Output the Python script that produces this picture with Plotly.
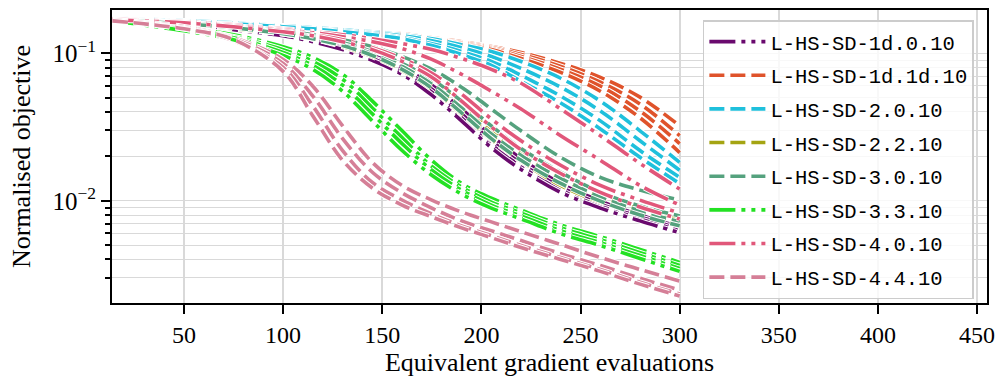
import plotly.graph_objects as go

# x positions (equivalent gradient evaluations) at which values were read
x_evals = [14, 50, 75, 100, 115, 130, 145, 160, 175, 190, 205, 220, 240, 260, 280, 300]

series_names = [
    "L-HS-SD-1d.0.10", "L-HS-SD-1d.1d.10", "L-HS-SD-2.0.10", "L-HS-SD-2.2.10",
    "L-HS-SD-3.0.10", "L-HS-SD-3.3.10", "L-HS-SD-4.0.10", "L-HS-SD-4.4.10",
]

runs_1d_0 = [
    [0.1684, 0.1583, 0.1465, 0.1335, 0.1236, 0.1109, 0.0966, 0.0802, 0.0607, 0.0419, 0.0276, 0.0193, 0.0131, 0.00994, 0.00801, 0.00665],
    [0.1684, 0.1583, 0.1465, 0.1335, 0.1236, 0.1092, 0.0936, 0.0766, 0.0571, 0.0388, 0.0255, 0.0179, 0.0124, 0.00949, 0.00777, 0.00645],
    [0.1684, 0.1558, 0.1442, 0.1315, 0.1217, 0.1076, 0.0922, 0.0742, 0.0545, 0.0365, 0.0240, 0.0171, 0.0118, 0.00920, 0.00753, 0.00626],
    [0.1684, 0.1558, 0.1442, 0.1315, 0.1198, 0.1059, 0.0894, 0.0720, 0.0520, 0.0348, 0.0229, 0.0163, 0.0114, 0.00892, 0.00730, 0.00607],
]
runs_1d_1d = [
    [0.1710, 0.1658, 0.1607, 0.1534, 0.1488, 0.1442, 0.1398, 0.1356, 0.1275, 0.1198, 0.1109, 0.1011, 0.0853, 0.0687, 0.0504, 0.0322],
    [0.1710, 0.1658, 0.1607, 0.1534, 0.1488, 0.1442, 0.1398, 0.1335, 0.1255, 0.1180, 0.1092, 0.0981, 0.0815, 0.0636, 0.0453, 0.0276],
    [0.1710, 0.1658, 0.1607, 0.1534, 0.1488, 0.1442, 0.1398, 0.1335, 0.1255, 0.1162, 0.1076, 0.0951, 0.0778, 0.0598, 0.0406, 0.0244],
    [0.1710, 0.1658, 0.1607, 0.1534, 0.1488, 0.1442, 0.1377, 0.1315, 0.1236, 0.1144, 0.1059, 0.0922, 0.0742, 0.0553, 0.0365, 0.0212],
]
runs_2_0 = [
    [0.1737, 0.1658, 0.1607, 0.1534, 0.1488, 0.1442, 0.1398, 0.1335, 0.1255, 0.1144, 0.1027, 0.0880, 0.0677, 0.0474, 0.0298, 0.0182],
    [0.1737, 0.1658, 0.1607, 0.1534, 0.1488, 0.1442, 0.1377, 0.1315, 0.1217, 0.1092, 0.0951, 0.0790, 0.0589, 0.0406, 0.0255, 0.0161],
    [0.1710, 0.1658, 0.1607, 0.1511, 0.1465, 0.1420, 0.1356, 0.1275, 0.1162, 0.1027, 0.0880, 0.0709, 0.0512, 0.0348, 0.0219, 0.0144],
    [0.1710, 0.1632, 0.1583, 0.1511, 0.1465, 0.1398, 0.1335, 0.1255, 0.1127, 0.0981, 0.0827, 0.0646, 0.0460, 0.0307, 0.0197, 0.0131],
]
runs_2_2 = [
    [0.1684, 0.1583, 0.1488, 0.1377, 0.1275, 0.1144, 0.0996, 0.0827, 0.0646, 0.0453, 0.0298, 0.0209, 0.0142, 0.0107, 0.00879, 0.00741],
    [0.1684, 0.1583, 0.1488, 0.1356, 0.1255, 0.1127, 0.0966, 0.0790, 0.0598, 0.0413, 0.0276, 0.0193, 0.0133, 0.0103, 0.00839, 0.00708],
    [0.1684, 0.1583, 0.1465, 0.1356, 0.1255, 0.1109, 0.0951, 0.0766, 0.0571, 0.0388, 0.0260, 0.0185, 0.0127, 0.00979, 0.00813, 0.00686],
]
runs_3_0 = [
    [0.1710, 0.1607, 0.1534, 0.1420, 0.1335, 0.1236, 0.1109, 0.0951, 0.0778, 0.0589, 0.0419, 0.0298, 0.0197, 0.0144, 0.0118, 0.0101],
    [0.1684, 0.1607, 0.1511, 0.1398, 0.1295, 0.1180, 0.1027, 0.0853, 0.0666, 0.0474, 0.0322, 0.0226, 0.0156, 0.0114, 0.00920, 0.00789],
    [0.1684, 0.1583, 0.1488, 0.1377, 0.1275, 0.1144, 0.0996, 0.0815, 0.0617, 0.0426, 0.0284, 0.0203, 0.0142, 0.0106, 0.00852, 0.00719],
    [0.1684, 0.1583, 0.1488, 0.1356, 0.1255, 0.1127, 0.0966, 0.0778, 0.0580, 0.0394, 0.0264, 0.0188, 0.0131, 0.00994, 0.00801, 0.00676],
]
runs_3_3 = [
    [0.1710, 0.1488, 0.1335, 0.1109, 0.0936, 0.0720, 0.0474, 0.0298, 0.0188, 0.0131, 0.0104, 0.00865, 0.00686, 0.00571, 0.00467, 0.00382],
    [0.1684, 0.1465, 0.1295, 0.1059, 0.0880, 0.0666, 0.0426, 0.0268, 0.0171, 0.0124, 0.00979, 0.00826, 0.00655, 0.00545, 0.00445, 0.00364],
    [0.1684, 0.1442, 0.1275, 0.1011, 0.0827, 0.0607, 0.0388, 0.0244, 0.0161, 0.0118, 0.00935, 0.00789, 0.00626, 0.00520, 0.00425, 0.00347],
    [0.1658, 0.1420, 0.1236, 0.0966, 0.0778, 0.0553, 0.0348, 0.0219, 0.0149, 0.0111, 0.00892, 0.00753, 0.00597, 0.00497, 0.00406, 0.00332],
]
runs_4_0 = [
    [0.1710, 0.1632, 0.1558, 0.1465, 0.1398, 0.1335, 0.1255, 0.1162, 0.1059, 0.0922, 0.0778, 0.0626, 0.0419, 0.0276, 0.0179, 0.0120],
    [0.1710, 0.1632, 0.1558, 0.1442, 0.1377, 0.1295, 0.1198, 0.1076, 0.0908, 0.0720, 0.0553, 0.0419, 0.0276, 0.0188, 0.0127, 0.00935],
    [0.1710, 0.1607, 0.1534, 0.1420, 0.1335, 0.1236, 0.1092, 0.0922, 0.0731, 0.0528, 0.0359, 0.0255, 0.0174, 0.0127, 0.0101, 0.00826],
    [0.1684, 0.1607, 0.1511, 0.1398, 0.1315, 0.1198, 0.1059, 0.0880, 0.0687, 0.0474, 0.0317, 0.0222, 0.0153, 0.0114, 0.00906, 0.00753],
]
runs_4_4 = [
    [0.1684, 0.1511, 0.1275, 0.0908, 0.0598, 0.0322, 0.0182, 0.0127, 0.0101, 0.00839, 0.00719, 0.00616, 0.00505, 0.00412, 0.00342, 0.00285],
    [0.1684, 0.1488, 0.1255, 0.0853, 0.0512, 0.0264, 0.0156, 0.0113, 0.00892, 0.00730, 0.00626, 0.00537, 0.00438, 0.00364, 0.00298, 0.00248],
    [0.1658, 0.1465, 0.1217, 0.0802, 0.0439, 0.0219, 0.0133, 0.0101, 0.00813, 0.00676, 0.00580, 0.00497, 0.00412, 0.00342, 0.00280, 0.00233],
    [0.1658, 0.1465, 0.1236, 0.0754, 0.0376, 0.0188, 0.0122, 0.00935, 0.00777, 0.00655, 0.00562, 0.00482, 0.00400, 0.00332, 0.00272, 0.00226],
]

all_runs = [runs_1d_0, runs_1d_1d, runs_2_0, runs_2_2, runs_3_0, runs_3_3, runs_4_0, runs_4_4]

colors = ["#6a0a6e", "#df532b", "#1fc0dc", "#a4a412", "#55a27e", "#23e123", "#e1577a", "#d57f97"]
DASH = "15px,6px"
DASHDOTDOT = "26px,6px,4px,6px,4px,6px"
dashes = [DASHDOTDOT, DASH, DASH, DASH, DASH, DASHDOTDOT, DASHDOTDOT, DASH]

LW = 3.6
fig = go.Figure()
for name, runs, col, dsh in zip(series_names, all_runs, colors, dashes):
    for i, yv in enumerate(runs):
        fig.add_trace(go.Scatter(
            x=x_evals, y=yv, mode="lines", showlegend=False, hoverinfo="skip",
            line=dict(color="white", width=LW + 2, dash=dsh, shape="spline"),
        ))
        fig.add_trace(go.Scatter(
            x=x_evals, y=yv, mode="lines", name=name, legendgroup=name,
            showlegend=(i == 0),
            line=dict(color=col, width=LW, dash=dsh, shape="spline"),
        ))

serif = "Liberation Serif"
grid_col = "#d9d9d9"
minor_vals = [0.002, 0.003, 0.004, 0.005, 0.006, 0.007, 0.008, 0.009,
              0.02, 0.03, 0.04, 0.05, 0.06, 0.07, 0.08, 0.09]

fig.update_layout(
    width=1003, height=380,
    margin=dict(l=112, r=13, t=8, b=76),
    paper_bgcolor="white", plot_bgcolor="white",
    font=dict(family=serif, size=22, color="black"),
    showlegend=True,
    legend=dict(
        x=0.985, xanchor="right", y=0.965, yanchor="top",
        bgcolor="rgba(255,255,255,0.8)", bordercolor="#cccccc", borderwidth=1.5,
        font=dict(family="Liberation Mono", size=20.5, color="black"),
        tracegroupgap=4, traceorder="grouped", itemwidth=56,
    ),
    xaxis=dict(
        range=[13.7, 455], tickvals=[50, 100, 150, 200, 250, 300, 350, 400, 450],
        showline=True, linecolor="black", linewidth=2, mirror=True,
        ticks="outside", ticklen=9, tickwidth=2, tickcolor="black",
        showgrid=True, gridcolor=grid_col, gridwidth=1.5, zeroline=False,
        title=dict(text="Equivalent gradient evaluations", standoff=6),
        tickfont=dict(family=serif, size=24),
    ),
    yaxis=dict(
        type="log", range=[-2.6933, -0.7067],
        tickvals=[0.01, 0.1], ticktext=["10<sup>−2</sup>", "10<sup>−1</sup>"],
        showline=True, linecolor="black", linewidth=2, mirror=True,
        ticks="outside", ticklen=9, tickwidth=2, tickcolor="black",
        showgrid=True, gridcolor=grid_col, gridwidth=1.2, zeroline=False,
        minor=dict(tickvals=minor_vals, ticks="outside", ticklen=5, tickwidth=1.5,
                   tickcolor="black", showgrid=True, gridcolor=grid_col, gridwidth=1.2),
        title=dict(text="Normalised objective", standoff=14),
        tickfont=dict(family=serif, size=25),
    ),
)

fig.write_html("out.html")
